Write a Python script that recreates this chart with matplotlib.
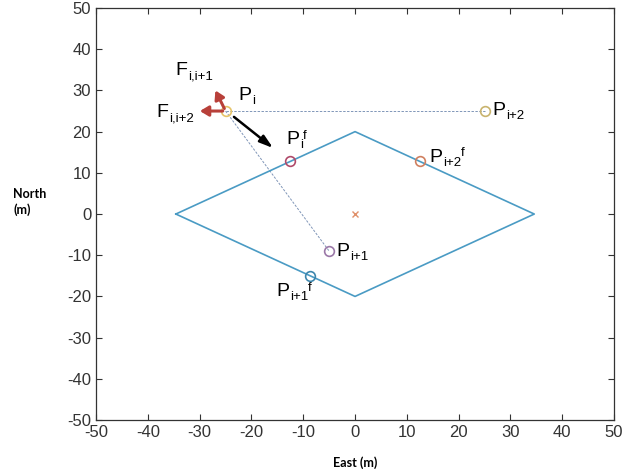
import numpy as np
import matplotlib
matplotlib.use("Agg")
import matplotlib.pyplot as plt

plt.rcParams["font.family"] = ["Liberation Sans", "DejaVu Sans"]
plt.rcParams["axes.unicode_minus"] = False

# diamond boundary (East, North) in metres
diamond_x = [-34.6, 0, 34.6, 0, -34.6]
diamond_y = [0, 20, 0, -20, 0]

# robot positions
p_i = (-25, 25)
p_i1 = (-5, -9)
p_i2 = (25, 25)

# target points on the boundary
p_if = (-12.5, 12.8)
p_i1f = (-8.7, -15)
p_i2f = (12.5, 12.8)

center = (0, 0)

# arrows: (start, end)
move_arrow = ((-23.8, 24.0), (-15.4, 15.6))
force_i1 = ((-25, 25), (-27.2, 30.6))
force_i2 = ((-25, 25), (-30.5, 25))

# labels: (x, y, main, sub, sup)
labels = [
    (-34.6, 34.8, "F", "i,i+1", ""),
    (-38.3, 24.6, "F", "i,i+2", ""),
    (-22.6, 28.8, "P", "i", ""),
    (-13.3, 18.0, "P", "i", "f"),
    (26.6, 25.2, "P", "i+2", ""),
    (14.3, 13.8, "P", "i+2", "f"),
    (-3.6, -9.1, "P", "i+1", ""),
    (-15.2, -18.8, "P", "i+1", "f"),
]

ticks = np.arange(-50, 51, 10)

fig = plt.figure(figsize=(6.24, 4.73), dpi=100)
ax = fig.add_axes([0.154, 0.112, 0.830, 0.871])

ax.plot(diamond_x, diamond_y, color="#4a9bc4", lw=1.2, zorder=2)

ax.plot([p_i[0], p_i2[0]], [p_i[1], p_i2[1]], ls=(0, (2.5, 1.5)),
        color="#8096b8", lw=0.7, zorder=1)
ax.plot([p_i[0], p_i1[0]], [p_i[1], p_i1[1]], ls=(0, (2.5, 1.5)),
        color="#8096b8", lw=0.7, zorder=1)

circ = dict(marker="o", ms=7, mfc="none", mew=1.2, ls="none", zorder=4)
ax.plot(*p_i, mec="#e6c46a", **circ)
ax.plot(*p_i2, mec="#c9b46e", **circ)
ax.plot(*p_i1, mec="#9b78a8", **circ)
ax.plot(*p_if, mec="#b04a6a", **circ)
ax.plot(*p_i2f, mec="#d08060", **circ)
ax.plot(*p_i1f, mec="#3d86ad", **circ)
ax.plot(*center, marker="x", ms=5, mec="#e0906a", mew=1.0, ls="none")

ax.annotate("", xy=move_arrow[1], xytext=move_arrow[0],
            arrowprops=dict(arrowstyle="-|>,head_length=0.8,head_width=0.25",
                            color="black", lw=1.8), zorder=5)
for s, e in (force_i1, force_i2):
    ax.annotate("", xy=e, xytext=s,
                arrowprops=dict(arrowstyle="-|>,head_length=0.5,head_width=0.3",
                                color="#b8403a", lw=2.2), zorder=5)

for x, y, main, sub, sup in labels:
    t = ax.text(x, y, main, fontsize=14, va="center", ha="left")
    s = ax.annotate(sub, xy=(1.0, 0.0), xycoords=t, fontsize=9.5,
                    va="bottom", ha="left", xytext=(0.5, -2.2),
                    textcoords="offset points")
    if sup:
        ax.annotate(sup, xy=(1.0, 1.0), xycoords=(s, t), fontsize=9.5,
                    va="top", ha="left", xytext=(0, 1),
                    textcoords="offset points")

ax.set_xlim(-50, 50)
ax.set_ylim(-50, 50)
ax.set_xticks(ticks)
ax.set_yticks(ticks)
ax.tick_params(direction="in", top=True, right=True, length=4,
               labelsize=12, labelcolor="#333333", color="#333333", width=0.8)
for sp in ax.spines.values():
    sp.set_color("#333333")
    sp.set_linewidth(0.9)

fig.text(0.569, 0.021, "East (m)", fontsize=9, fontweight="bold",
         family=["Lato", "DejaVu Sans"], ha="center", va="center")
fig.text(0.021, 0.573, "North\n(m)", fontsize=9, fontweight="bold",
         family=["Lato", "DejaVu Sans"], ha="left", va="center", linespacing=1.4)

fig.savefig("out.png", dpi=100)
